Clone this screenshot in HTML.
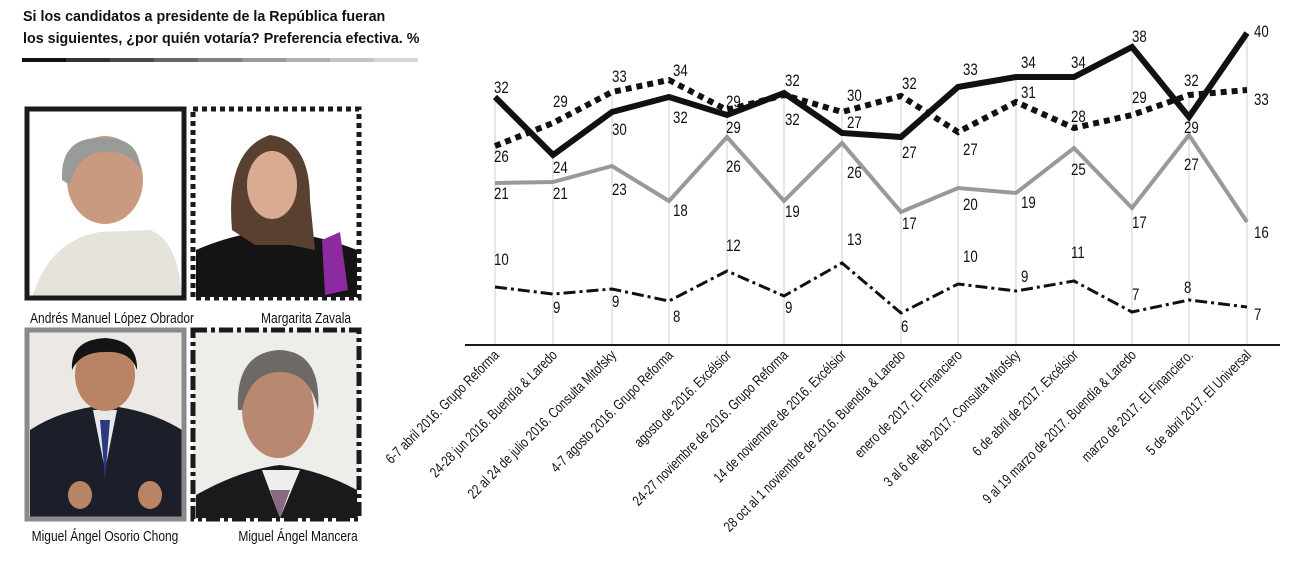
<!DOCTYPE html>
<html><head><meta charset="utf-8"><style>
html,body{margin:0;padding:0;background:#fff;}
svg{display:block;}
text{font-family:"Liberation Sans",sans-serif;}
.n text{transform-box:fill-box;transform-origin:left center;transform:scaleX(0.78);}
.c{transform-box:fill-box;transform-origin:center;transform:scaleX(0.8);}
</style></head><body>
<svg width="1300" height="572" viewBox="0 0 1300 572" xmlns="http://www.w3.org/2000/svg">
<!-- Title -->
<text x="23" y="21" font-size="14.3" font-weight="bold" fill="#111">Si los candidatos a presidente de la República fueran</text>
<text x="23" y="43" font-size="14.3" font-weight="bold" fill="#111">los siguientes, ¿por quién votaría? Preferencia efectiva. %</text>
<g>
<rect x="22" y="58" width="44" height="4" fill="#111"/>
<rect x="66" y="58" width="44" height="4" fill="#333"/>
<rect x="110" y="58" width="44" height="4" fill="#4a4a4a"/>
<rect x="154" y="58" width="44" height="4" fill="#666"/>
<rect x="198" y="58" width="44" height="4" fill="#808080"/>
<rect x="242" y="58" width="44" height="4" fill="#999"/>
<rect x="286" y="58" width="44" height="4" fill="#b0b0b0"/>
<rect x="330" y="58" width="44" height="4" fill="#c4c4c4"/>
<rect x="374" y="58" width="44" height="4" fill="#d6d6d6"/>
</g>

<!-- AMLO -->
<rect x="27" y="109" width="157" height="189" fill="#fff"/>
<path d="M32 297 Q50 240 100 232 L150 230 Q178 240 182 297 Z" fill="#e6e3dc"/>
<ellipse cx="105" cy="180" rx="38" ry="44" fill="#c99a7f"/>
<path d="M62 180 Q60 135 105 138 Q140 138 140 170 Q130 150 105 152 Q78 152 70 185 Z" fill="#9a9a98"/>
<rect x="27" y="109" width="157" height="189" fill="none" stroke="#1a1a1a" stroke-width="5"/>
<!-- Zavala -->
<rect x="193" y="109" width="166" height="189" fill="#fff"/>
<path d="M196 297 L196 250 Q230 235 270 230 Q320 235 357 250 L357 297 Z" fill="#141414"/>
<path d="M232 230 Q225 150 270 135 Q310 140 310 200 L315 250 L290 245 L255 245 Z" fill="#5a4030"/>
<ellipse cx="272" cy="185" rx="25" ry="34" fill="#d9ac92"/>
<path d="M322 240 L340 232 L348 290 L325 295 Z" fill="#8e2aa0"/>
<rect x="193" y="109" width="166" height="189" fill="none" stroke="#1a1a1a" stroke-width="5" stroke-dasharray="5 4"/>
<text class="c" x="112" y="323" font-size="15" text-anchor="middle" fill="#111">Andrés Manuel López Obrador</text>
<text class="c" x="306" y="323" font-size="15" text-anchor="middle" fill="#111">Margarita Zavala</text>
<!-- Osorio Chong -->
<rect x="27" y="330" width="157" height="189" fill="#ece9e4"/>
<path d="M30 518 L30 430 Q60 410 105 405 Q150 410 182 430 L182 518 Z" fill="#1c1f2a"/>
<path d="M93 410 L105 470 L117 410 Z" fill="#e8e8e8"/>
<path d="M100 420 L105 480 L110 420 Z" fill="#2a3a80"/>
<ellipse cx="105" cy="375" rx="30" ry="36" fill="#b98466"/>
<path d="M72 370 Q70 340 105 338 Q138 340 137 370 Q130 350 105 352 Q80 352 72 370 Z" fill="#141414"/>
<ellipse cx="80" cy="495" rx="12" ry="14" fill="#b98466"/>
<ellipse cx="150" cy="495" rx="12" ry="14" fill="#b98466"/>
<rect x="27" y="330" width="157" height="189" fill="none" stroke="#8a8a8a" stroke-width="5"/>
<!-- Mancera -->
<rect x="193" y="330" width="166" height="189" fill="#ededea"/>
<path d="M196 518 L196 495 Q240 470 280 465 Q320 470 357 490 L357 518 Z" fill="#1a1a1c"/>
<path d="M262 470 L280 518 L300 470 Z" fill="#eee"/>
<path d="M270 490 L280 518 L290 490 Z" fill="#8a6a80"/>
<ellipse cx="278" cy="410" rx="36" ry="48" fill="#b88870"/>
<path d="M238 410 Q235 352 280 350 Q322 352 318 410 Q310 372 280 372 Q250 372 242 410 Z" fill="#6d6a66"/>
<rect x="193" y="330" width="166" height="189" fill="none" stroke="#1a1a1a" stroke-width="5" stroke-dasharray="14 4 4 4"/>
<text class="c" x="105" y="541" font-size="15" text-anchor="middle" fill="#111">Miguel Ángel Osorio Chong</text>
<text class="c" x="298" y="541" font-size="15" text-anchor="middle" fill="#111">Miguel Ángel Mancera</text>

<!-- Chart gridlines -->
<g stroke="#cfcfcf" stroke-width="1">
<line x1="495" y1="95" x2="495" y2="345"/><line x1="553" y1="150" x2="553" y2="345"/>
<line x1="612" y1="95" x2="612" y2="345"/><line x1="669" y1="95" x2="669" y2="345"/>
<line x1="727" y1="110" x2="727" y2="345"/><line x1="784" y1="93" x2="784" y2="345"/>
<line x1="842" y1="110" x2="842" y2="345"/><line x1="901" y1="95" x2="901" y2="345"/>
<line x1="958" y1="85" x2="958" y2="345"/><line x1="1016" y1="77" x2="1016" y2="345"/>
<line x1="1074" y1="77" x2="1074" y2="345"/><line x1="1132" y1="47" x2="1132" y2="345"/>
<line x1="1189" y1="95" x2="1189" y2="345"/><line x1="1247" y1="33" x2="1247" y2="345"/>
</g>
<line x1="465" y1="345" x2="1280" y2="345" stroke="#1a1a1a" stroke-width="2"/>

<!-- Series -->
<polyline fill="none" stroke="#999" stroke-width="4" points="495,183 553,182 612,166 669,201 727,137 784,201 842,143 901,212 958,188 1016,193 1074,148 1132,208 1189,135 1247,222"/>
<polyline fill="none" stroke="#111" stroke-width="3" stroke-dasharray="12 4 3 4" points="495,287 553,294 612,289 669,301 727,271 784,296 842,263 901,313 958,284 1016,291 1074,281 1132,312 1189,300 1247,307"/>
<polyline fill="none" stroke="#111" stroke-width="6" stroke-dasharray="6 5" points="495,146 553,123 612,92 669,80 727,110 784,95 842,112 901,96 958,132 1016,102 1074,128 1132,115 1189,95 1247,90"/>
<polyline fill="none" stroke="#111" stroke-width="6" points="495,97 553,155 612,112 669,97 727,115 784,93 842,133 901,137 958,87 1016,77 1074,77 1132,47 1189,117 1247,33"/>

<!-- Value labels -->
<g class="n" font-size="17" fill="#111">
<text x="494" y="93">32</text><text x="494" y="162">26</text><text x="494" y="199">21</text><text x="494" y="265">10</text>
<text x="553" y="107">29</text><text x="553" y="173">24</text><text x="553" y="199">21</text><text x="553" y="313">9</text>
<text x="612" y="82">33</text><text x="612" y="135">30</text><text x="612" y="195">23</text><text x="612" y="307">9</text>
<text x="673" y="76">34</text><text x="673" y="123">32</text><text x="673" y="216">18</text><text x="673" y="322">8</text>
<text x="726" y="107">29</text><text x="726" y="133">29</text><text x="726" y="172">26</text><text x="726" y="251">12</text>
<text x="785" y="86">32</text><text x="785" y="125">32</text><text x="785" y="217">19</text><text x="785" y="313">9</text>
<text x="847" y="101">30</text><text x="847" y="128">27</text><text x="847" y="178">26</text><text x="847" y="245">13</text>
<text x="902" y="89">32</text><text x="902" y="158">27</text><text x="902" y="229">17</text><text x="901" y="332">6</text>
<text x="963" y="75">33</text><text x="963" y="155">27</text><text x="963" y="210">20</text><text x="963" y="262">10</text>
<text x="1021" y="68">34</text><text x="1021" y="98">31</text><text x="1021" y="208">19</text><text x="1021" y="282">9</text>
<text x="1071" y="68">34</text><text x="1071" y="122">28</text><text x="1071" y="175">25</text><text x="1071" y="258">11</text>
<text x="1132" y="42">38</text><text x="1132" y="103">29</text><text x="1132" y="228">17</text><text x="1132" y="300">7</text>
<text x="1184" y="86">32</text><text x="1184" y="133">29</text><text x="1184" y="170">27</text><text x="1184" y="293">8</text>
<text x="1254" y="37">40</text><text x="1254" y="105">33</text><text x="1254" y="238">16</text><text x="1254" y="320">7</text>
</g>

<!-- X labels -->
<g font-size="14.5" fill="#111" text-anchor="end">
<text transform="translate(500,356) rotate(-45) scale(0.78,1)">6-7 abril 2016. Grupo Reforma</text>
<text transform="translate(558,356) rotate(-45) scale(0.78,1)">24-28 jun 2016. Buendía &amp; Laredo</text>
<text transform="translate(617,356) rotate(-45) scale(0.78,1)">22 al 24 de julio 2016. Consulta Mitofsky</text>
<text transform="translate(674,356) rotate(-45) scale(0.78,1)">4-7 agosto 2016. Grupo Reforma</text>
<text transform="translate(732,356) rotate(-45) scale(0.78,1)">agosto de 2016. Excélsior</text>
<text transform="translate(789,356) rotate(-45) scale(0.78,1)">24-27 noviembre de 2016. Grupo Reforma</text>
<text transform="translate(847,356) rotate(-45) scale(0.78,1)">14 de noviembre de 2016. Excélsior</text>
<text transform="translate(906,356) rotate(-45) scale(0.78,1)">28 oct al 1 noviembre de 2016. Buendía &amp; Laredo</text>
<text transform="translate(963,356) rotate(-45) scale(0.78,1)">enero de 2017, El Financiero</text>
<text transform="translate(1021,356) rotate(-45) scale(0.78,1)">3 al 6 de feb 2017. Consulta Mitofsky</text>
<text transform="translate(1079,356) rotate(-45) scale(0.78,1)">6 de abril de 2017. Excélsior</text>
<text transform="translate(1137,356) rotate(-45) scale(0.78,1)">9 al 19 marzo de 2017. Buendía &amp; Laredo</text>
<text transform="translate(1194,356) rotate(-45) scale(0.78,1)">marzo de 2017. El Financiero.</text>
<text transform="translate(1252,356) rotate(-45) scale(0.78,1)">5 de abril 2017. El Universal</text>
</g>
</svg>
</body></html>
